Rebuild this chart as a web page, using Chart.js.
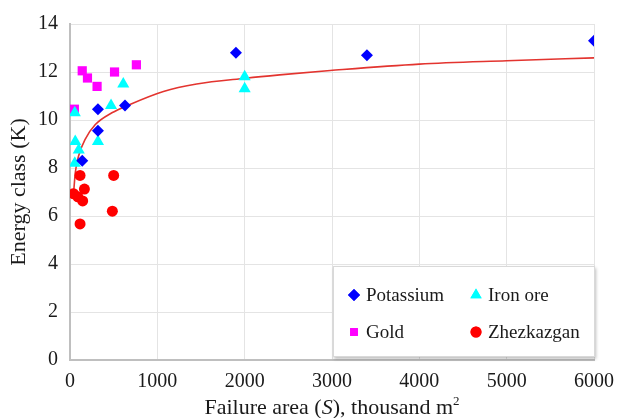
<!DOCTYPE html>
<html>
<head>
<meta charset="utf-8">
<script src="https://cdn.jsdelivr.net/npm/chart.js@4/dist/chart.umd.min.js"></script>
<style>
  html, body { margin: 0; padding: 0; background: #fff; }
  #wrap { width: 618px; height: 418px; }
</style>
</head>
<body>
<div id="wrap"><canvas id="myChart"></canvas></div>
<script>
// values
const potassiumX = [1900, 3400, 6000, 320, 630, 320, 140];
const potassiumY = [12.8, 12.7, 13.3, 10.45, 10.6, 9.55, 8.3];

const ironX = [55, 60, 100, 55, 320, 470, 610, 2000, 2000];
const ironY = [10.3, 9.1, 8.75, 8.2, 9.1, 10.6, 11.5, 11.8, 11.3];

const goldX = [50, 140, 200, 310, 510, 760];
const goldY = [10.45, 12.05, 11.75, 11.4, 12.0, 12.3];

const zhezX = [40, 90, 115, 145, 165, 115, 500, 485];
const zhezY = [6.93, 6.8, 7.69, 6.63, 7.12, 5.67, 7.69, 6.2];

// trend line, points
const trendX = [42, 61, 99, 175, 290, 480, 680, 1070, 1450, 2010, 2400, 2980, 4000, 5000, 6000];
const trendY = [7.0, 7.82, 8.51, 9.2, 9.81, 10.3, 10.64, 11.19, 11.5, 11.74, 11.88, 12.06, 12.33, 12.47, 12.59];

const xTicks = [0, 1000, 2000, 3000, 4000, 5000, 6000];
const yTicks = [0, 2, 4, 6, 8, 10, 12, 14];

const toPoints = (xs, ys) => xs.map((x, i) => ({ x: x, y: ys[i] }));

const serif = "'Liberation Serif', 'Times New Roman', serif";

// draws the 2x2 legend box inside the plot, from the datasets
const boxLegend = {
    id: 'boxLegend',
    afterDraw(chart) {
        const ctx = chart.ctx;
        const area = chart.chartArea;
        const sets = chart.data.datasets.filter(d => d.inLegend);
        const left = area.left + 263, right = area.right + 1;
        const top = area.top + 242, bottom = area.bottom - 3;

        ctx.save();
        ctx.shadowColor = 'rgba(0,0,0,0.25)';
        ctx.shadowBlur = 3;
        ctx.shadowOffsetX = 1;
        ctx.shadowOffsetY = 2;
        ctx.fillStyle = '#ffffff';
        ctx.fillRect(left, top, right - left, bottom - top);
        ctx.restore();

        ctx.save();
        ctx.strokeStyle = '#d9d9d9';
        ctx.lineWidth = 1;
        ctx.strokeRect(left + 0.5, top + 0.5, right - left - 1, bottom - top - 1);

        ctx.font = '19px ' + serif;
        ctx.textBaseline = 'middle';
        ctx.textAlign = 'left';
        sets.forEach((d, i) => {
            const col = i % 2, row = Math.floor(i / 2);
            const mx = left + 21 + col * 122;
            const my = top + 29 + row * 37;
            ctx.fillStyle = d.backgroundColor;
            ctx.strokeStyle = d.backgroundColor;
            Chart.helpers.drawPoint(ctx, {
                pointStyle: d.pointStyle,
                radius: d.legendRadius,
                borderWidth: 0,
                rotation: 0
            }, mx, my);
            ctx.fill();
            ctx.fillStyle = '#1a1a1a';
            ctx.fillText(d.label, mx + 12, my + 1);
        });
        ctx.restore();
    }
};

// x axis title with italic S and superscript 2
const xTitle = {
    id: 'xTitle',
    afterDraw(chart) {
        const ctx = chart.ctx;
        const area = chart.chartArea;
        const parts = [
            { t: 'Failure area (', f: '22px ' + serif, dy: 0 },
            { t: 'S', f: 'italic 22px ' + serif, dy: 0 },
            { t: '), thousand m', f: '22px ' + serif, dy: 0 },
            { t: '2', f: '13px ' + serif, dy: -9 }
        ];
        ctx.save();
        ctx.fillStyle = '#1a1a1a';
        ctx.textBaseline = 'alphabetic';
        ctx.textAlign = 'left';
        let total = 0;
        parts.forEach(p => { ctx.font = p.f; p.w = ctx.measureText(p.t).width; total += p.w; });
        let x = (area.left + area.right) / 2 - total / 2;
        const base = area.bottom + 54;
        parts.forEach(p => {
            ctx.font = p.f;
            ctx.fillText(p.t, x, base + p.dy);
            x += p.w;
        });
        ctx.restore();
    }
};

const data = {
    datasets: [
        {
            label: 'Potassium',
            data: toPoints(potassiumX, potassiumY),
            pointStyle: 'rectRot',
            pointRadius: 6,
            legendRadius: 6,
            backgroundColor: '#0000ff',
            borderColor: '#0000ff',
            borderWidth: 0,
            inLegend: true
        },
        {
            label: 'Iron ore',
            data: toPoints(ironX, ironY),
            pointStyle: 'triangle',
            pointRadius: 7,
            legendRadius: 6.5,
            backgroundColor: '#00ffff',
            borderColor: '#00ffff',
            borderWidth: 0,
            inLegend: true
        },
        {
            label: 'Gold',
            data: toPoints(goldX, goldY),
            pointStyle: 'rect',
            pointRadius: 6.5,
            legendRadius: 5.5,
            backgroundColor: '#ff00ff',
            borderColor: '#ff00ff',
            borderWidth: 0,
            inLegend: true
        },
        {
            label: 'Zhezkazgan',
            data: toPoints(zhezX, zhezY),
            pointStyle: 'circle',
            pointRadius: 5.5,
            legendRadius: 5.5,
            backgroundColor: '#ff0000',
            borderColor: '#ff0000',
            borderWidth: 0,
            inLegend: true
        },
        {
            label: 'Trend',
            type: 'line',
            data: toPoints(trendX, trendY),
            borderColor: '#e3342f',
            borderWidth: 1.6,
            pointRadius: 0,
            fill: false,
            cubicInterpolationMode: 'monotone',
            inLegend: false
        }
    ]
};

const config = {
    type: 'scatter',
    data: data,
    options: {
        responsive: true,
        maintainAspectRatio: false,
        animation: false,
        events: [],
        layout: { padding: { top: 20, right: 24, left: 0, bottom: 0 } },
        plugins: {
            legend: { display: false },
            tooltip: { enabled: false }
        },
        scales: {
            x: {
                type: 'linear',
                min: 0,
                max: 6000,
                afterBuildTicks: (scale) => { scale.ticks = xTicks.map(v => ({ value: v })); },
                afterFit: (scale) => {
                    scale.height = 58;
                    scale.paddingRight = 0;
                    scale.paddingLeft = 0;
                },
                ticks: {
                    padding: 10,
                    color: '#1a1a1a',
                    font: { family: serif, size: 20 },
                    callback: (v) => String(v)
                },
                grid: { color: '#e4e4e4', lineWidth: 1, drawTicks: false },
                border: { color: '#bfbfbf', width: 2 }
            },
            y: {
                min: 0,
                max: 14,
                afterBuildTicks: (scale) => { scale.ticks = yTicks.map(v => ({ value: v })); },
                afterFit: (scale) => { scale.width = 70; },
                ticks: {
                    padding: 12,
                    color: '#1a1a1a',
                    font: { family: serif, size: 20 },
                    callback: (v) => String(v)
                },
                title: {
                    display: true,
                    text: 'Energy class (K)',
                    color: '#1a1a1a',
                    font: { family: serif, size: 22 },
                    padding: { top: 6, bottom: 0 }
                },
                grid: { color: '#e4e4e4', lineWidth: 1, drawTicks: false },
                border: { color: '#bfbfbf', width: 2 }
            }
        }
    },
    plugins: [boxLegend, xTitle]
};

let myChart = new Chart(document.getElementById('myChart'), config);
</script>
</body>
</html>
